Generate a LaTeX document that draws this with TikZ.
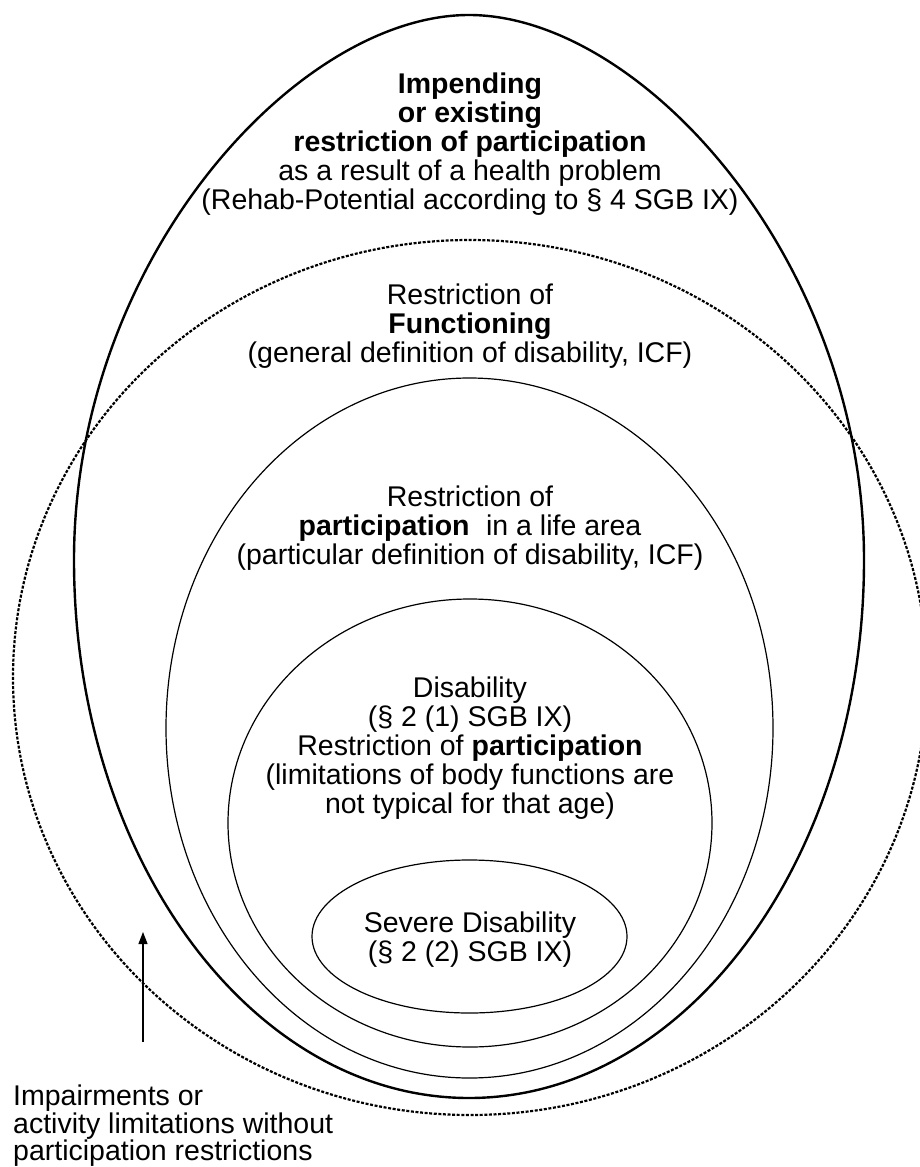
\documentclass[tikz,border=0pt]{standalone}
\usepackage{fontspec}
\setmainfont{Liberation Sans}
\usetikzlibrary{arrows.meta}
\tikzset{
  txt/.style={align=center, inner sep=0pt, font=\fontsize{28.5}{29}\selectfont},
  outerline/.style={line width=2.4pt},
  dotline/.style={line width=2.2pt, dash pattern=on 3pt off 1.6pt},
  thinline/.style={line width=1.2pt},
  arrowline/.style={line width=1.2pt, -{Triangle[width=9pt,length=12pt]}}
}
\begin{document}
\begin{tikzpicture}[x=1pt,y=-1pt]
\useasboundingbox (0,0) rectangle (920,1167);
\clip (0,0) rectangle (920,1167);
% ellipses
\draw[dotline] (470,677.5) ellipse [x radius=457, y radius=437.5];
\draw[outerline] (469,15) .. controls (641,15) and (864,260) .. (864,560)
  .. controls (864,857) and (687,1098) .. (469,1098)
  .. controls (251,1098) and (74,857) .. (74,560)
  .. controls (74,260) and (297,15) .. cycle;
\draw[thinline] (469.5,728) ellipse [x radius=303.5, y radius=350];
\draw[thinline] (470,823) ellipse [x radius=242, y radius=224];
\draw[thinline] (469.5,936.5) ellipse [x radius=157.5, y radius=76.5];
% texts
\node[txt] (impending) at (470,144) {\textbf{Impending}\\ \textbf{or existing}\\ \textbf{restriction of participation}\\ as a result of a health problem\\ (Rehab-Potential according to § 4 SGB IX)};
\node[txt] (functioning) at (470,326) {Restriction of\\ \textbf{Functioning}\\ (general definition of disability, ICF)};
\node[txt] (partic) at (470,528) {Restriction of\\ \textbf{participation}\hspace{0.3em} in a life area\\ (particular definition of disability, ICF)};
\node[txt] (disab) at (470,748) {Disability\\ (§ 2 (1) SGB IX)\\ Restriction of \textbf{participation}\\ (limitations of body functions are\\ not typical for that age)};
\node[txt] (severe) at (470,940) {Severe Disability\\ (§ 2 (2) SGB IX)};
\node[align=left, inner sep=0pt, anchor=north west, font=\fontsize{28.5}{25}\selectfont] (impair) at (13,1085) {Impairments or\\ activity limitations without\\ participation restrictions};
% arrow
\coordinate (arrstart) at (143,1042);
\coordinate (arrend) at (143,932);
\draw[arrowline] (arrstart) -- (arrend);
\end{tikzpicture}
\end{document}
